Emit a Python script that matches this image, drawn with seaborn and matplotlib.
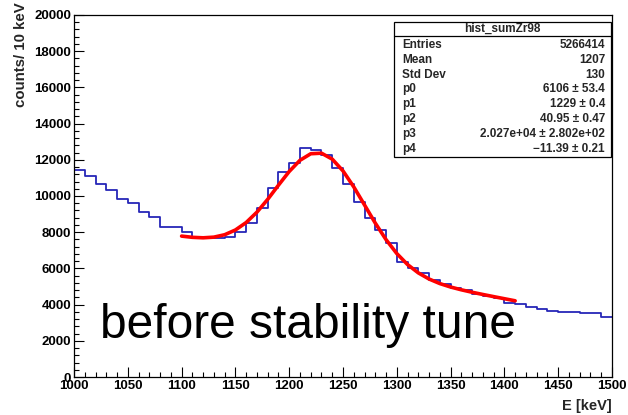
import numpy as np
import pandas as pd
import matplotlib
matplotlib.use("Agg")
import matplotlib.pyplot as plt
import seaborn as sns
from matplotlib.patches import Rectangle
from matplotlib.lines import Line2D
from matplotlib.ticker import MultipleLocator

# ---------------- data ----------------
bin_left = [1000, 1010, 1020, 1030, 1040, 1050, 1060, 1070, 1080, 1090,
            1100, 1110, 1120, 1130, 1140, 1150, 1160, 1170, 1180, 1190,
            1200, 1210, 1220, 1230, 1240, 1250, 1260, 1270, 1280, 1290,
            1300, 1310, 1320, 1330, 1340, 1350, 1360, 1370, 1380, 1390,
            1400, 1410, 1420, 1430, 1440, 1450, 1460, 1470, 1480, 1490]
counts = [11437, 11120, 10646, 10332, 9817, 9596, 9098, 8857, 8304, 8304,
          8028, 7717, 7717, 7663, 7720, 8000, 8530, 9320, 10425, 11309,
          11806, 12670, 12542, 12265, 11560, 10663, 9650, 8766, 8122, 7385,
          6371, 6000, 5729, 5350, 5150, 4920, 4780, 4600, 4480, 4350,
          4100, 4050, 3884, 3738, 3664, 3600, 3573, 3520, 3518, 3297]

fit_e = [1100, 1110, 1120, 1130, 1140, 1150, 1160, 1170, 1180, 1190,
         1200, 1210, 1220, 1230, 1240, 1250, 1260, 1270, 1280, 1290,
         1300, 1310, 1320, 1330, 1340, 1350, 1360, 1370, 1380, 1390,
         1400, 1410]
fit_counts = [7784, 7717, 7690, 7727, 7860, 8122, 8534, 9106, 9814, 10596,
              11354, 11971, 12334, 12366, 12036, 11386, 10504, 9504, 8503, 7590,
              6821, 6212, 5752, 5413, 5162, 4971, 4817, 4682, 4559, 4441,
              4325, 4210]

stats_title = "hist_sumZr98"
stats_labels = ["Entries", "Mean", "Std Dev", "p0", "p1", "p2", "p3", "p4"]
stats_values = ["5266414", "1207", "130", "6106 \u00b1 53.4", "1229 \u00b1 0.4",
                "40.95 \u00b1 0.47", "2.027e+04 \u00b1 2.802e+02",
                "\u221211.39 \u00b1 0.21"]

x_ticks = [1000, 1050, 1100, 1150, 1200, 1250, 1300, 1350, 1400, 1450, 1500]
y_ticks = [0, 2000, 4000, 6000, 8000, 10000, 12000, 14000, 16000, 18000, 20000]

# ---------------- style ----------------
sns.set_theme(style="ticks")
plt.rcParams["font.family"] = ["Liberation Sans", "DejaVu Sans"]

W, H = 628, 415
fig = plt.figure(figsize=(W / 100, H / 100), dpi=100)
fig.patch.set_facecolor("white")

def fx(px):
    return px / W

def fy(py):
    return 1 - py / H

ax = fig.add_axes([fx(74), fy(377), fx(612) - fx(74), fy(15) - fy(377)])
ax.set_facecolor("white")

df = pd.DataFrame({"E": [b + 5 for b in bin_left], "w": counts})
sns.histplot(data=df, x="E", weights="w", binwidth=10, binrange=(1000, 1500),
             element="step", fill=False, color="#2626b8", linewidth=1.3, ax=ax)

fit_df = pd.DataFrame({"E": fit_e, "c": fit_counts})
sns.lineplot(data=fit_df, x="E", y="c", color="#ff0000", linewidth=2.6,
             sort=False, ax=ax)

ax.set_xlim(1000, 1500)
ax.set_ylim(0, 20000)
ax.set_xticks(x_ticks)
ax.set_yticks(y_ticks)
ax.set_xticklabels([str(t) for t in x_ticks], fontweight="bold")
ax.set_yticklabels([str(t) for t in y_ticks], fontweight="bold")
ax.xaxis.set_minor_locator(MultipleLocator(10))
ax.yaxis.set_minor_locator(MultipleLocator(400))
ax.tick_params(which="both", direction="in", top=False, right=False,
               colors="black", width=0.8, labelsize=9.5)
ax.tick_params(which="major", length=7)
ax.tick_params(which="minor", length=3.5)
ax.tick_params(axis="x", which="major", pad=2)
ax.tick_params(axis="y", which="major", pad=2)
ax.set_xlabel("")
ax.set_ylabel("")
for s in ax.spines.values():
    s.set_visible(True)
    s.set_color("black")
    s.set_linewidth(0.9)

fig.text(fx(612), fy(406), "E [keV]", ha="right", va="center", fontsize=10.5,
         fontweight="bold")
fig.text(fx(21), fy(2), "counts/ 10 keV", rotation=90, ha="center", va="top",
         fontsize=10.8, fontweight="bold")

ax.text(1024, 2150, "before stability tune", fontsize=34.5, ha="left",
        va="baseline", color="black")

# stats box
bx0, bx1, by0, by1, bsep = 394, 611, 21.5, 157, 36
rect = Rectangle((fx(bx0), fy(by1)), fx(bx1) - fx(bx0), fy(by0) - fy(by1),
                 transform=fig.transFigure, facecolor="white",
                 edgecolor="black", linewidth=0.9, zorder=10)
fig.patches.append(rect)
fig.lines.append(Line2D([fx(bx0), fx(bx1)], [fy(bsep), fy(bsep)],
                        transform=fig.transFigure, color="black",
                        linewidth=0.9, zorder=11))
fig.text(fx((bx0 + bx1) / 2), fy(29), stats_title, ha="center", va="center",
         fontsize=8.5, fontweight="bold", zorder=12)
row_y0, row_dy = 45, 14.8
for i, (lab, val) in enumerate(zip(stats_labels, stats_values)):
    yy = row_y0 + i * row_dy
    fig.text(fx(402), fy(yy), lab, ha="left", va="center", fontsize=8.5,
             fontweight="bold", zorder=12)
    fig.text(fx(605), fy(yy), val, ha="right", va="center", fontsize=8.5,
             fontweight="bold", zorder=12)

fig.savefig("out.png", dpi=100, facecolor="white")
